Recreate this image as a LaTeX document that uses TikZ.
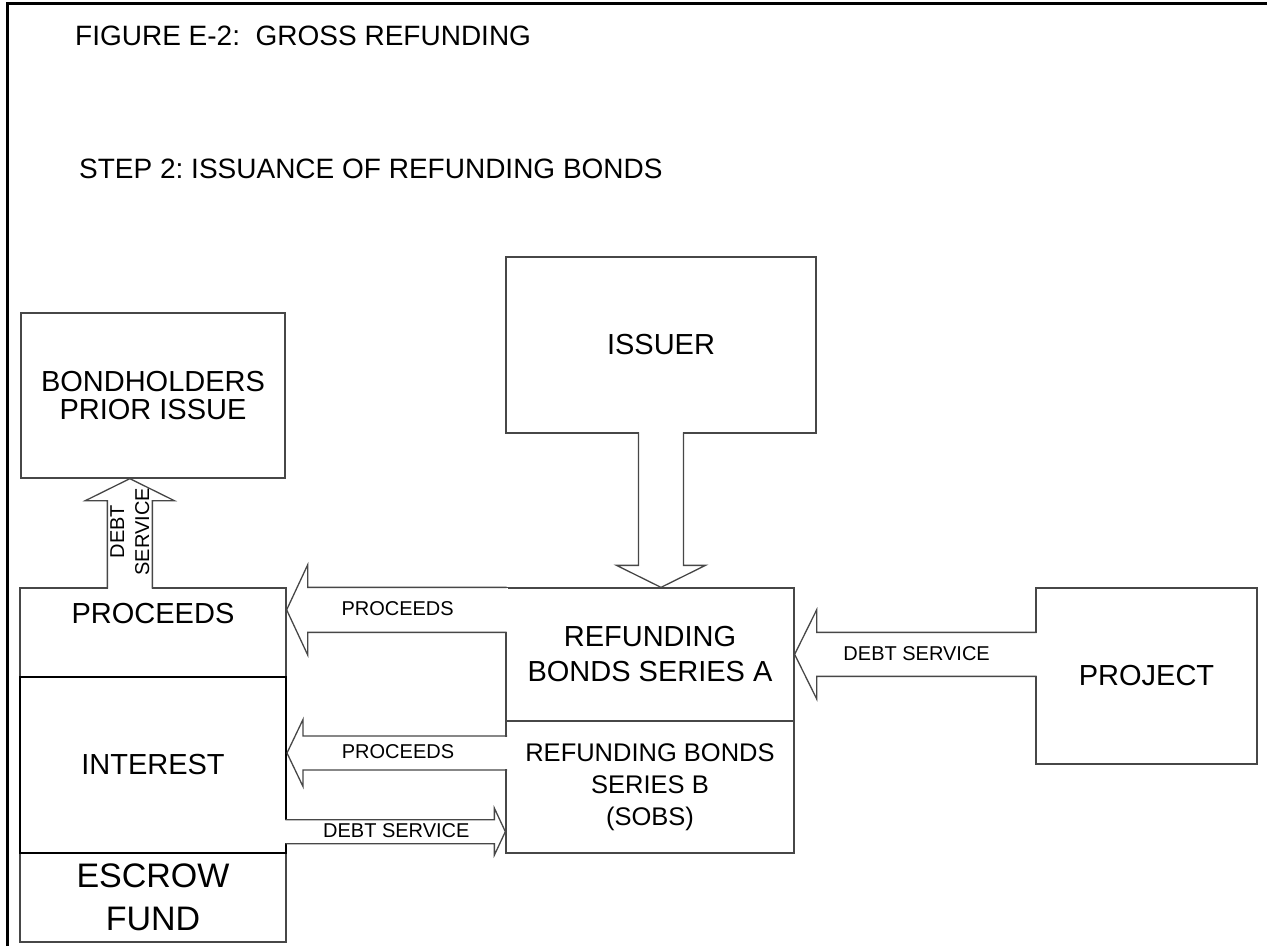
\documentclass[tikz,border=0pt]{standalone}
\usepackage{fontspec}
\setmainfont{Liberation Sans}
\usetikzlibrary{calc}
\frenchspacing

\definecolor{boxgray}{gray}{0.28}

\tikzset{
  frameline/.style={line width=3pt, black},
  box/.style={rectangle, draw=boxgray, line width=1.3pt, inner sep=0pt, align=center},
  heavybox/.style={rectangle, draw=black, line width=2pt, inner sep=0pt, align=center},
  arrowline/.style={draw=boxgray, line width=1.3pt, line join=miter},
  bigtext/.style={font=\fontsize{29}{35}\selectfont},
  smalltext/.style={font=\fontsize{20}{25}\selectfont, inner sep=0pt, align=center},
  headtext/.style={font=\fontsize{28}{34}\selectfont, inner sep=0pt, anchor=base west},
}

% hollow block arrow: #1 tip, #2 angle of the body, #3 length to the source edge,
% #4 head length, #5 half shaft width, #6 half head width
\newcommand\blockarrow[6]{%
  \begin{scope}[shift={(#1)}, rotate=#2]
    \fill[white] (#4,-#5+0.7) rectangle (#3+1.5,#5-0.7);
    \draw[arrowline] (#3,-#5) -- (#4,-#5) -- (#4,-#6) -- (0,0) -- (#4,#6) -- (#4,#5) -- (#3,#5);
  \end{scope}}

\begin{document}
\begin{tikzpicture}[x=1pt, y=-1pt]
  \useasboundingbox (0,0) rectangle (1267,946);
  \fill[white] (0,0) rectangle (1267,946);

  % page frame (top and left rules only)
  \draw[frameline] (7,946) -- (7,3) -- (1267,3);

  % headings
  \node[headtext] (title) at (75,45) {FIGURE E-2:~~GROSS REFUNDING};
  \node[headtext] (step) at (79,178) {STEP 2: ISSUANCE OF REFUNDING BONDS};

  % boxes
  \node[box, minimum width=264, minimum height=165, bigtext,
        font=\fontsize{29}{28}\selectfont] (bond) at (153,395.5) {BONDHOLDERS\\PRIOR ISSUE};
  \node[box, minimum width=310, minimum height=176, bigtext] (issu) at (661,345) {ISSUER};
  \node[box, minimum width=266, minimum height=89] (proc) at (153,632.5) {};
  \node[box, minimum width=266, minimum height=89,
        font=\fontsize{34}{43}\selectfont] (escr) at (153,897.5) {ESCROW\\FUND};
  \node[box, minimum width=288, minimum height=133, bigtext] (sera) at (650,654.5) {REFUNDING\\BONDS SERIES A};
  \node[box, minimum width=288, minimum height=132,
        font=\fontsize{25.5}{32}\selectfont] (serb) at (650,787) {REFUNDING BONDS\\SERIES B\\(SOBS)};
  \node[box, minimum width=221, minimum height=176, bigtext] (proj) at (1146.5,676) {PROJECT};
  \node[heavybox, minimum width=266, minimum height=176, bigtext] (intr) at (153,765) {INTEREST};
  \node[bigtext, inner sep=0pt] (proclabel) at ($(proc.north)+(0,26)$) {PROCEEDS};

  % arrow tips on the receiving boxes
  \coordinate (tipA) at ($(proc.north east)+(0,22.5)$);
  \coordinate (tipB) at ($(intr.north east)+(0,77)$);
  \coordinate (tipC) at ($(serb.south west)+(0,-22)$);
  \coordinate (tipD) at ($(sera.north east)+(0,67)$);
  \coordinate (tipE) at (issu.south |- sera.north);
  \coordinate (tipF) at ($(bond.south west)+(109.5,0)$);

  % block arrows
  \blockarrow{tipA}{0}{220}{21}{22.5}{45}
  \blockarrow{tipB}{0}{220}{16}{17}{33.5}
  \blockarrow{tipC}{180}{220}{11}{12}{23.5}
  \blockarrow{tipD}{0}{242}{22}{22}{44.5}
  \blockarrow{tipE}{90}{155}{22}{22.5}{44.5}
  \blockarrow{tipF}{-90}{110}{22}{22.5}{44.5}

  % arrow labels
  \node[smalltext] (lblA) at ($(tipA)+(111,-1.5)$) {PROCEEDS};
  \node[smalltext] (lblB) at ($(tipB)+(111,-1)$) {PROCEEDS};
  \node[smalltext] (lblC) at ($(tipC)+(-109,-1)$) {DEBT SERVICE};
  \node[smalltext] (lblD) at ($(tipD)+(122,-1)$) {DEBT SERVICE};
  \node[smalltext, rotate=90] (lblF) at ($(tipF)+(0,53)$) {DEBT\\SERVICE};
\end{tikzpicture}
\end{document}
